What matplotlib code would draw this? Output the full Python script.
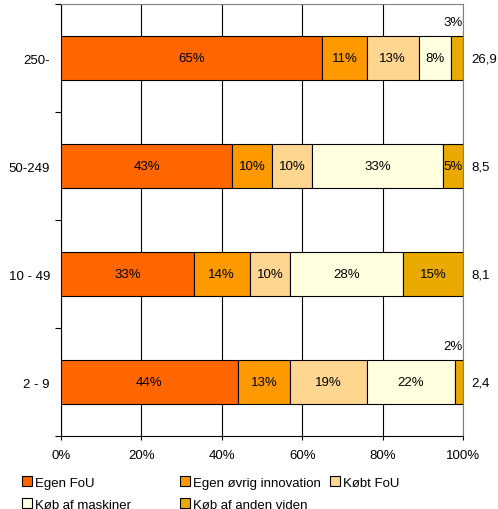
import numpy as np
import matplotlib
matplotlib.use("Agg")
import matplotlib.pyplot as plt
from matplotlib.patches import Patch

plt.rcParams['font.family'] = ['Liberation Sans', 'DejaVu Sans']
plt.rcParams['font.size'] = 9.5

sizes = ["250-", "50-249", "10 - 49", "2 - 9"]
series = ["Egen FoU", "Egen øvrig innovation", "Købt FoU",
          "Køb af maskiner", "Køb af anden viden"]
egen_fou = [65, 43, 33, 44]
egen_oevrig = [11, 10, 14, 13]
koebt_fou = [13, 10, 10, 19]
maskiner = [8, 33, 28, 22]
anden_viden = [3, 5, 15, 2]
totals = ["26,9", "8,5", "8,1", "2,4"]

colors = ["#FF6600", "#FF9900", "#FFD68F", "#FFFFE0", "#EAAA00"]

values = np.array([egen_fou, egen_oevrig, koebt_fou, maskiner, anden_viden], dtype=float)
shares = values / values.sum(axis=0)

fig = plt.figure(figsize=(4.98, 5.10), dpi=100)
ax = fig.add_axes([0.1225, 0.143, 0.8072, 0.847])

y = np.arange(len(sizes))
left = np.zeros(len(sizes))
for k in range(len(series)):
    ax.barh(y, shares[k], left=left, height=0.4, color=colors[k],
            edgecolor="black", linewidth=0.8, zorder=3, label=series[k])
    for i in range(len(sizes)):
        pct = "%d%%" % values[k, i]
        if values[k, i] < 4:
            # too narrow: put the label above the bar, flush with the right edge
            ax.text(1.0, y[i] - 0.33, pct, ha="right", va="center")
        else:
            ax.text(left[i] + shares[k, i] / 2, y[i], pct,
                    ha="center", va="center", zorder=4)
    left += shares[k]

for i in range(len(sizes)):
    ax.text(1.02, y[i], totals[i], ha="left", va="center")

ax.set_xlim(0, 1)
ax.set_ylim(len(sizes) - 0.5, -0.5)
ax.set_xticks(np.linspace(0, 1, 6))
ax.set_xticklabels(["0%", "20%", "40%", "60%", "80%", "100%"])
ax.set_yticks(y)
ax.set_yticklabels(sizes)
ax.set_yticks(np.arange(-0.5, len(sizes)), minor=True)
ax.tick_params(axis="y", which="major", length=0, pad=8)
ax.tick_params(axis="y", which="minor", length=4, width=0.8, direction="out")
ax.tick_params(axis="x", length=3, width=0.8, pad=6)

ax.grid(axis="x", color="black", linewidth=0.8, zorder=0)
for s in ["left", "bottom"]:
    ax.spines[s].set_color("black")
    ax.spines[s].set_linewidth(0.8)
for s in ["top", "right"]:
    ax.spines[s].set_color("#808080")
    ax.spines[s].set_linewidth(0.8)

# legend entries laid out row by row, like the original sheet
legend_pos = [(0.044, 0.040), (0.361, 0.040), (0.663, 0.040),
              (0.044, -0.003), (0.361, -0.003)]
for k in range(len(series)):
    h = Patch(facecolor=colors[k], edgecolor="black", linewidth=0.8)
    fig.legend([h], [series[k]], loc="lower left", bbox_to_anchor=legend_pos[k],
               frameon=False, handlelength=0.75, handleheight=0.75,
               handletextpad=0.25, borderpad=0, borderaxespad=0)

fig.savefig("out.png", dpi=100)
